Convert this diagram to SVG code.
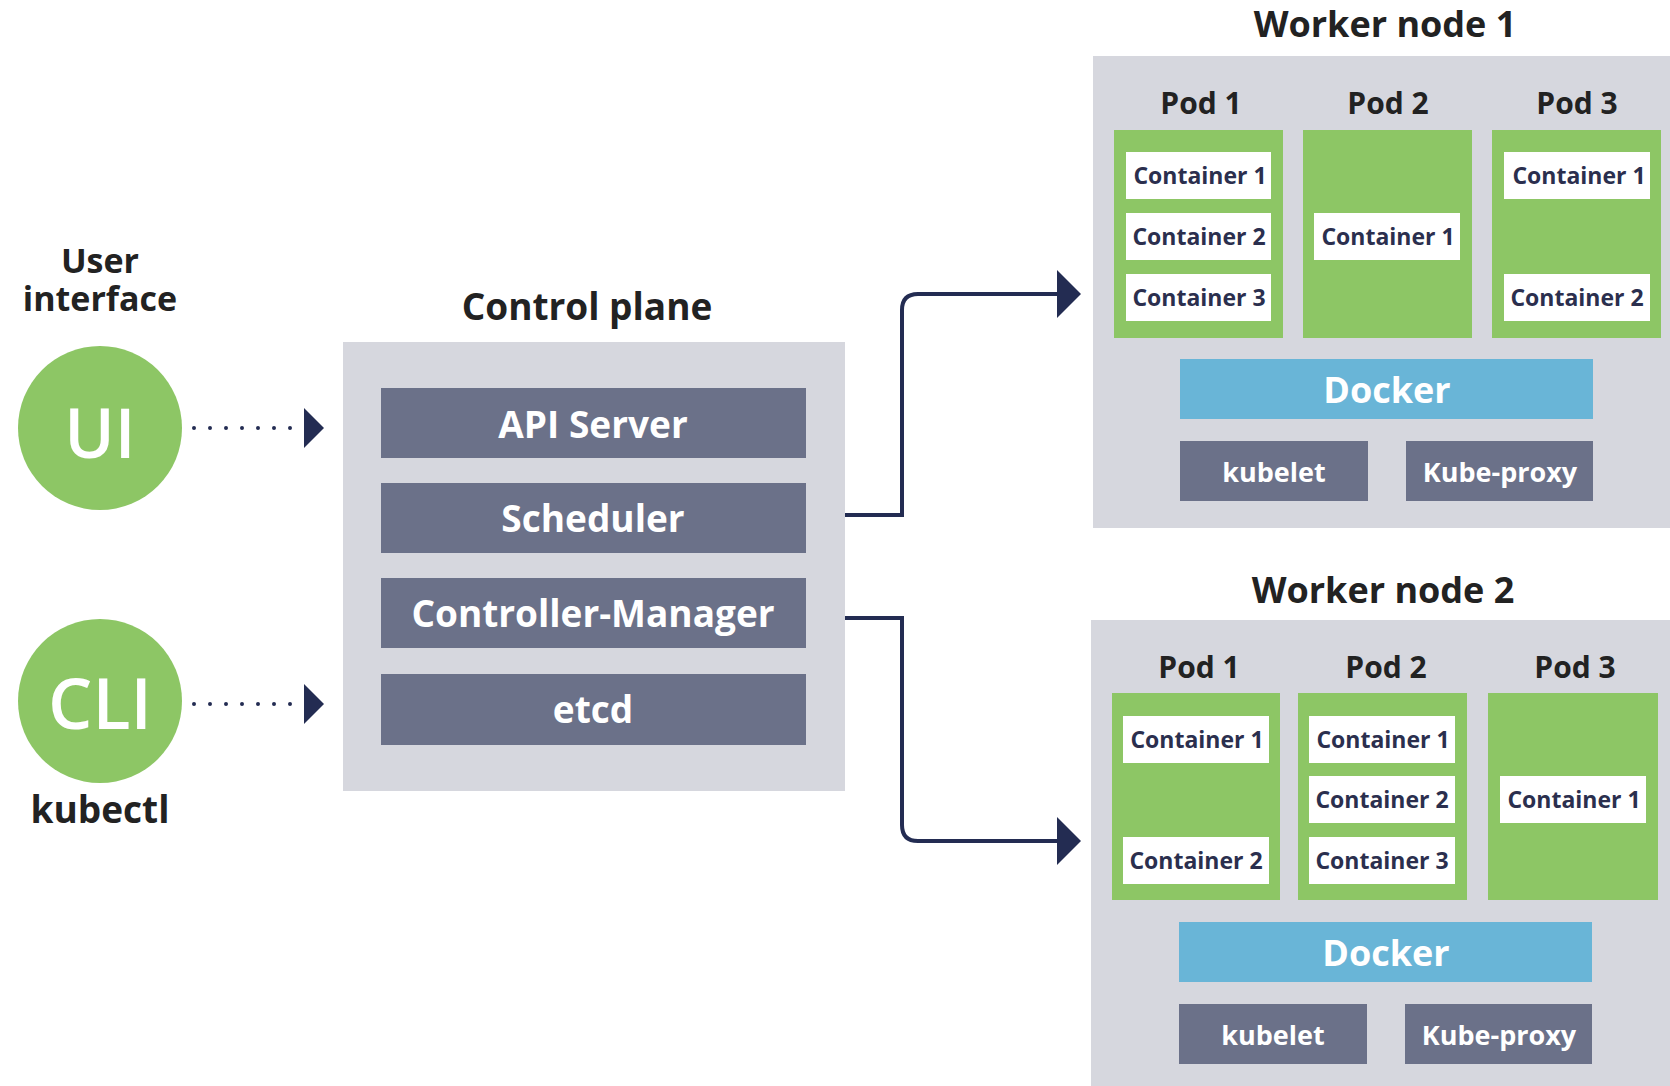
<svg xmlns="http://www.w3.org/2000/svg" width="1670" height="1086" viewBox="0 0 1670 1086">
<defs>
<style>
text{font-family:"Open Sans","Noto Sans","Liberation Sans",sans-serif;font-weight:700;text-anchor:middle;dominant-baseline:central}
.bg{fill:#d6d7de}
.dk{fill:#6b7189}
.gr{fill:#8dc665}
.wh{fill:#ffffff}
.bl{fill:#69b5d7}
.t-title{fill:#222;font-size:36px}
.t-pod{fill:#222;font-size:30px}
.t-box{fill:#fff;font-size:37px}
.t-c{fill:#2b2f4e;font-size:23px}
.t-dock{fill:#fff;font-size:36px}
.t-small{fill:#fff;font-size:27px}
.conn{fill:none;stroke:#232c52;stroke-width:4}
.dots{fill:none;stroke:#232c52;stroke-width:4;stroke-linecap:round;stroke-dasharray:0 16}
</style>
</defs>
<rect width="1670" height="1086" fill="#ffffff"/>

<g id="ui">
<text class="t-title" style="font-size:34px;dominant-baseline:auto"><tspan x="100" y="273">User</tspan><tspan x="100" y="311">interface</tspan></text>
<circle cx="100" cy="428" r="82" class="gr"/>
<text x="100" y="431" style="fill:#fff;font-size:68px;font-weight:600">UI</text>
</g>

<g id="cli">
<circle cx="100" cy="701" r="82" class="gr"/>
<text x="100" y="702" style="fill:#fff;font-size:70px;font-weight:600">CLI</text>
<text x="100" y="808" class="t-title" style="font-size:37px">kubectl</text>
</g>

<g id="control-plane">
<text x="587" y="305" class="t-title" style="font-size:37px">Control plane</text>
<rect x="343" y="342" width="502" height="449" class="bg"/>
<rect x="381" y="388" width="425" height="70" class="dk"/>
<text x="593" y="423" class="t-box">API Server</text>
<rect x="381" y="483" width="425" height="70" class="dk"/>
<text x="593" y="517" class="t-box">Scheduler</text>
<rect x="381" y="578" width="425" height="70" class="dk"/>
<text x="593" y="612" class="t-box">Controller-Manager</text>
<rect x="381" y="674" width="425" height="71" class="dk"/>
<text x="593" y="708" class="t-box">etcd</text>
</g>

<g id="worker-node-1">
<text x="1385" y="23" class="t-title">Worker node 1</text>
<rect x="1093" y="56" width="577" height="472" class="bg"/>
<text x="1201" y="102" class="t-pod">Pod 1</text>
<text x="1388" y="102" class="t-pod">Pod 2</text>
<text x="1577" y="102" class="t-pod">Pod 3</text>
<rect x="1114" y="130" width="169" height="208" class="gr"/>
<rect x="1303" y="130" width="169" height="208" class="gr"/>
<rect x="1492" y="130" width="169" height="208" class="gr"/>
<rect x="1126" y="152" width="145" height="47" class="wh"/>
<text x="1200" y="175" class="t-c">Container 1</text>
<rect x="1126" y="213" width="145" height="47" class="wh"/>
<text x="1199" y="236" class="t-c">Container 2</text>
<rect x="1126" y="274" width="145" height="47" class="wh"/>
<text x="1199" y="297" class="t-c">Container 3</text>
<rect x="1314" y="213" width="146" height="47" class="wh"/>
<text x="1388" y="236" class="t-c">Container 1</text>
<rect x="1504" y="152" width="146" height="47" class="wh"/>
<text x="1579" y="175" class="t-c">Container 1</text>
<rect x="1504" y="274" width="146" height="47" class="wh"/>
<text x="1577" y="297" class="t-c">Container 2</text>
<rect x="1180" y="359" width="413" height="60" class="bl"/>
<text x="1387" y="389" class="t-dock">Docker</text>
<rect x="1180" y="441" width="188" height="60" class="dk"/>
<text x="1274" y="471" class="t-small">kubelet</text>
<rect x="1406" y="441" width="187" height="60" class="dk"/>
<text x="1500" y="471" class="t-small">Kube-proxy</text>
</g>

<g id="worker-node-2">
<text x="1383" y="589" class="t-title">Worker node 2</text>
<rect x="1091" y="620" width="579" height="466" class="bg"/>
<text x="1199" y="666" class="t-pod">Pod 1</text>
<text x="1386" y="666" class="t-pod">Pod 2</text>
<text x="1575" y="666" class="t-pod">Pod 3</text>
<rect x="1112" y="693" width="168" height="207" class="gr"/>
<rect x="1298" y="693" width="169" height="207" class="gr"/>
<rect x="1488" y="693" width="170" height="207" class="gr"/>
<rect x="1123" y="716" width="146" height="47" class="wh"/>
<text x="1197" y="739" class="t-c">Container 1</text>
<rect x="1123" y="837" width="146" height="47" class="wh"/>
<text x="1196" y="860" class="t-c">Container 2</text>
<rect x="1309" y="716" width="146" height="47" class="wh"/>
<text x="1383" y="739" class="t-c">Container 1</text>
<rect x="1309" y="776" width="146" height="47" class="wh"/>
<text x="1382" y="799" class="t-c">Container 2</text>
<rect x="1309" y="837" width="146" height="47" class="wh"/>
<text x="1382" y="860" class="t-c">Container 3</text>
<rect x="1500" y="776" width="146" height="47" class="wh"/>
<text x="1574" y="799" class="t-c">Container 1</text>
<rect x="1179" y="922" width="413" height="60" class="bl"/>
<text x="1386" y="952" class="t-dock">Docker</text>
<rect x="1179" y="1004" width="188" height="60" class="dk"/>
<text x="1273" y="1034" class="t-small">kubelet</text>
<rect x="1405" y="1004" width="187" height="60" class="dk"/>
<text x="1499" y="1034" class="t-small">Kube-proxy</text>
</g>

<g id="connectors">
<path class="dots" d="M194,428 H292"/>
<path d="M304,408 L324,428 L304,448 Z" fill="#232c52"/>
<path class="dots" d="M194,704 H292"/>
<path d="M304,684 L324,704 L304,724 Z" fill="#232c52"/>
<path class="conn" d="M845,515 H902 V310 Q902,294 918,294 H1060"/>
<path d="M1057,270 L1081,294 L1057,318 Z" fill="#232c52"/>
<path class="conn" d="M845,618 H902 V825 Q902,841 918,841 H1060"/>
<path d="M1057,817 L1081,841 L1057,865 Z" fill="#232c52"/>
</g>
</svg>
